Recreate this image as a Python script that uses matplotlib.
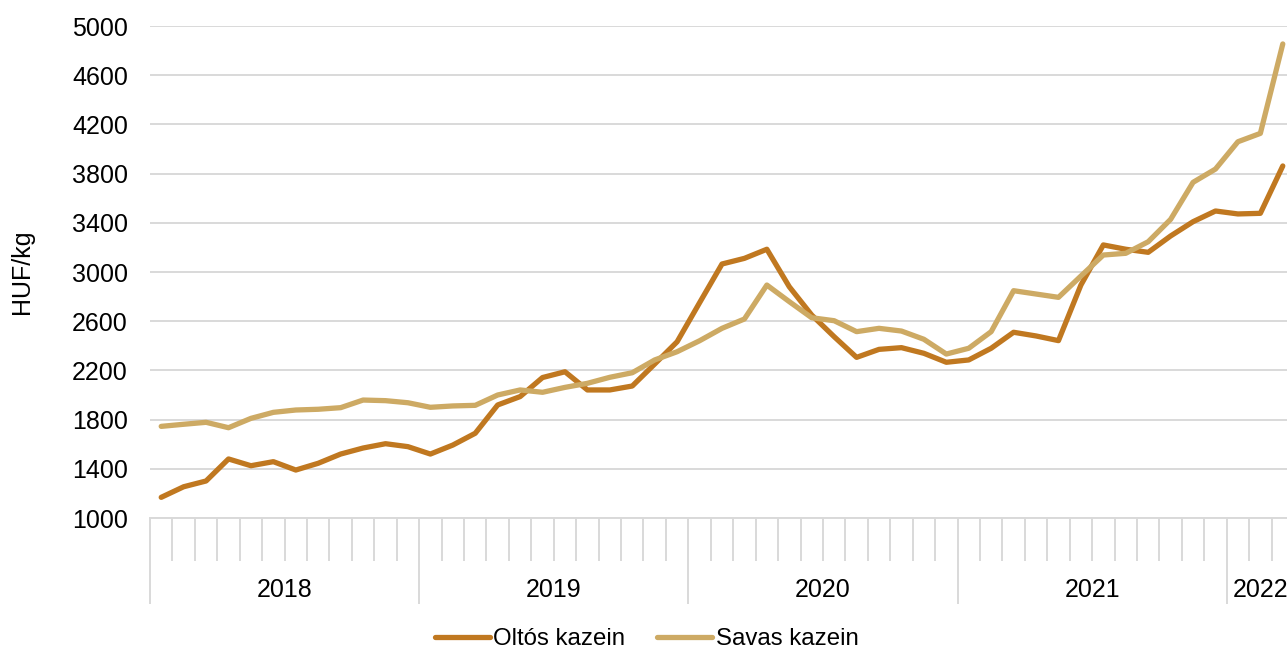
import matplotlib
matplotlib.use("Agg")
import matplotlib.pyplot as plt
import matplotlib.transforms as mtransforms
import numpy as np

plt.rcParams['font.family'] = ['Liberation Sans', 'DejaVu Sans']

years = ["2018", "2019", "2020", "2021", "2022"]
months_per_year = [12, 12, 12, 12, 3]

oltos = [1168, 1254, 1301, 1480, 1425, 1458, 1390, 1445, 1520, 1569, 1604, 1580,
         1520, 1593, 1689, 1919, 1987, 2142, 2189, 2041, 2041, 2073, 2252, 2433,
         2750, 3065, 3111, 3185, 2880, 2650, 2474, 2306, 2371, 2385, 2339, 2266,
         2285, 2380, 2510, 2480, 2442, 2894, 3220, 3185, 3160, 3293, 3409, 3496,
         3472, 3477, 3862]
savas = [1745, 1762, 1778, 1734, 1810, 1859, 1878, 1884, 1897, 1959, 1954, 1937,
         1900, 1911, 1916, 2000, 2041, 2022, 2062, 2095, 2144, 2181, 2285, 2352,
         2441, 2542, 2618, 2894, 2759, 2628, 2604, 2515, 2542, 2520, 2453, 2333,
         2380, 2515, 2848, 2821, 2794, 2967, 3138, 3152, 3246, 3428, 3729, 3837,
         4059, 4127, 4854]
series_names = ["Oltós kazein", "Savas kazein"]
yticks = [1000, 1400, 1800, 2200, 2600, 3000, 3400, 3800, 4200, 4600, 5000]

W, H = 1287, 651
FS = 18
LFS = 17.3
fig = plt.figure(figsize=(W / 100, H / 100), dpi=100)
ax = fig.add_axes([150 / W, 133 / H, 1144 / W, 492 / H])

c_dark = "#C07820"
c_light = "#CDAA64"
grid_c = "#D9D9D9"

n = len(oltos)
x = np.arange(n)
ax.plot(x, oltos, color=c_dark, lw=3.8, solid_capstyle='round', solid_joinstyle='round',
        label=series_names[0], zorder=3)
ax.plot(x, savas, color=c_light, lw=3.8, solid_capstyle='round', solid_joinstyle='round',
        label=series_names[1], zorder=3)

ax.set_xlim(-0.5, n - 0.5)
ax.set_ylim(1000, 5000)
ax.set_yticks(yticks)
ax.set_yticklabels([str(v) for v in yticks], fontsize=FS)
ax.tick_params(axis='y', length=0, pad=16)
ax.yaxis.grid(True, color=grid_c, lw=1.4)
ax.set_axisbelow(True)

for s in ['top', 'right', 'left']:
    ax.spines[s].set_visible(False)
ax.spines['bottom'].set_color(grid_c)
ax.spines['bottom'].set_linewidth(1.4)

# year boundaries and month ticks
bounds = np.cumsum([0] + months_per_year) - 0.5
ax.set_xticks(bounds[:-1])
ax.set_xticklabels([])
ax.set_xticks(np.arange(n + 1) - 0.5, minor=True)
ax.tick_params(axis='x', which='major', length=62, width=1.4, color=grid_c, direction='out')
ax.tick_params(axis='x', which='minor', length=31, width=1.4, color=grid_c, direction='out')

trans = mtransforms.blended_transform_factory(ax.transData, ax.transAxes)
for i, yr in enumerate(years):
    cx = (bounds[i] + bounds[i + 1]) / 2
    ax.text(cx, -72 / 492, yr, transform=trans, ha='center', va='center', fontsize=FS)

ax.set_ylabel("HUF/kg", fontsize=FS)
ax.yaxis.set_label_coords(-(150 - 34) / 1144, 1 - (272 - 26) / 492, transform=ax.transAxes)

fig.legend(loc='center', bbox_to_anchor=(646.5 / W, 1 - 639 / H), ncol=2, frameon=False,
           fontsize=LFS, handlelength=2.3, handletextpad=0.14, columnspacing=1.33)

fig.savefig("out.png", dpi=100)
